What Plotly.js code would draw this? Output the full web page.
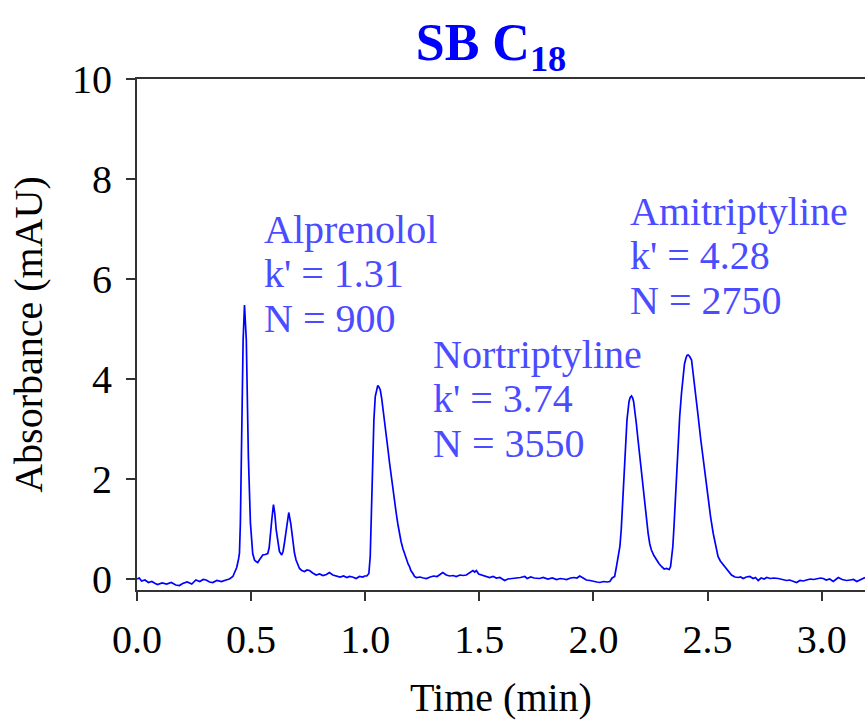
<!DOCTYPE html>
<html>
<head>
<meta charset="utf-8">
<script src="https://cdn.plot.ly/plotly-3.0.1.min.js"></script>
<style>html,body{margin:0;padding:0;background:#fff;}#chart{width:865px;height:721px;}</style>
</head>
<body>
<div id="chart"></div>
<script>
// Retention time (min)
const time = [
0, 0.01, 0.02, 0.035, 0.05, 0.065, 0.08, 0.09, 0.11, 0.13, 0.15, 0.17, 0.186, 0.2, 0.22, 0.24, 0.258, 0.275, 0.29, 0.303, 0.318, 0.332, 0.35, 0.37, 0.39, 0.405, 0.42,
0.427, 0.437, 0.445, 0.449, 0.453, 0.459, 0.465, 0.471, 0.479, 0.488, 0.497, 0.507, 0.515, 0.522, 0.529, 0.536, 0.545, 0.551, 0.562, 0.573, 0.579, 0.585, 0.591, 0.598, 0.604, 0.610, 0.617, 0.624, 0.634, 0.640, 0.646, 0.655, 0.665, 0.674, 0.683, 0.690, 0.697, 0.704, 0.712, 0.722, 0.734, 0.745, 0.756, 0.77, 0.785, 0.80, 0.815, 0.83, 0.843, 0.858, 0.873, 0.89, 0.905, 0.92, 0.931, 0.945, 0.96, 0.975, 0.99, 0.997, 1.007,
1.016, 1.022, 1.028, 1.033, 1.038, 1.044, 1.050, 1.055, 1.060, 1.066, 1.072, 1.077, 1.085, 1.092, 1.100, 1.107, 1.114, 1.121, 1.128, 1.136, 1.143, 1.150, 1.157, 1.165, 1.172, 1.182, 1.188, 1.194, 1.2, 1.209, 1.216, 1.224,
1.24, 1.255, 1.268, 1.285, 1.3, 1.315, 1.328, 1.34, 1.355, 1.37, 1.385, 1.399, 1.415, 1.43, 1.443, 1.458, 1.472, 1.48, 1.487, 1.497, 1.509, 1.52, 1.535, 1.545, 1.56, 1.575, 1.59, 1.611, 1.625, 1.64, 1.662, 1.68, 1.699, 1.71, 1.725, 1.74, 1.764, 1.78, 1.8, 1.82, 1.838, 1.855, 1.87, 1.882, 1.9, 1.915, 1.928, 1.940, 1.955, 1.969, 1.985, 2.0, 2.015, 2.028, 2.045, 2.06, 2.072, 2.082, 2.093,
2.101, 2.108, 2.116, 2.122, 2.127, 2.133, 2.137, 2.142, 2.147, 2.156, 2.161, 2.167, 2.172, 2.176, 2.182, 2.188, 2.195, 2.202, 2.21, 2.217, 2.225, 2.232, 2.24, 2.247, 2.254, 2.265, 2.276, 2.287, 2.298, 2.31, 2.32, 2.332,
2.338, 2.342, 2.348, 2.353, 2.358, 2.364, 2.371, 2.378, 2.386, 2.393, 2.399, 2.405, 2.41, 2.415, 2.422, 2.43, 2.435, 2.44, 2.45, 2.459, 2.47, 2.481, 2.492, 2.503, 2.514, 2.525, 2.535, 2.546, 2.556, 2.566, 2.576, 2.59, 2.605, 2.62, 2.634,
2.645, 2.656, 2.67, 2.685, 2.7, 2.71, 2.722, 2.735, 2.748, 2.759, 2.775, 2.79, 2.81, 2.825, 2.846, 2.86, 2.875, 2.89, 2.905, 2.92, 2.934, 2.95, 2.965, 2.98, 2.995, 3.007, 3.02, 3.035, 3.051, 3.062, 3.073, 3.09, 3.109, 3.125, 3.14, 3.154, 3.168, 3.183, 3.19
];
// Absorbance (mAU)
const absorbance = [
0.0, 0.02, -0.04, -0.02, -0.07, -0.05, -0.09, -0.11, -0.08, -0.1, -0.07, -0.12, -0.13, -0.09, -0.06, -0.1, -0.02, -0.05, -0.01, -0.02, -0.06, -0.07, -0.03, -0.05, -0.02, 0.0, 0.05,
0.12, 0.23, 0.4, 0.52, 1.12, 3.1, 4.78, 5.48, 4.78, 2.45, 1.12, 0.51, 0.38, 0.35, 0.33, 0.38, 0.45, 0.48, 0.49, 0.51, 0.62, 0.85, 1.2, 1.49, 1.3, 0.98, 0.72, 0.55, 0.48, 0.55, 0.72, 1.05, 1.33, 1.1, 0.71, 0.52, 0.38, 0.3, 0.21, 0.17, 0.15, 0.18, 0.17, 0.12, 0.08, 0.1, 0.07, 0.09, 0.13, 0.08, 0.06, 0.04, 0.06, 0.03, 0.05, 0.04, 0.01, 0.05, 0.04, 0.06, 0.06,
0.11, 0.45, 1.51, 2.51, 3.18, 3.65, 3.82, 3.87, 3.84, 3.78, 3.62, 3.45, 3.15, 2.85, 2.58, 2.31, 2.04, 1.78, 1.53, 1.31, 1.1, 0.91, 0.75, 0.61, 0.5, 0.35, 0.3, 0.25, 0.17, 0.11, 0.05, 0.03,
0.04, 0.02, 0.01, 0.04, 0.06, 0.05, 0.1, 0.13, 0.08, 0.06, 0.07, 0.05, 0.08, 0.07, 0.08, 0.12, 0.17, 0.14, 0.17, 0.1, 0.08, 0.07, 0.04, 0.03, 0.05, 0.02, 0.03, -0.03, 0.0, 0.01, 0.01, 0.03, 0.05, 0.01, 0.04, 0.02, 0.01, 0.03, 0.0, 0.02, -0.01, 0.01, 0.0, -0.01, 0.02, 0.03, 0.02, 0.06, 0.02, -0.02, -0.03, -0.05, -0.06, -0.07, -0.05, -0.06, -0.05, 0.02, 0.05,
0.25, 0.42, 0.65, 1.0, 1.45, 2.0, 2.45, 2.85, 3.18, 3.55, 3.63, 3.66, 3.62, 3.55, 3.35, 3.11, 2.8, 2.51, 2.18, 1.85, 1.5, 1.18, 0.9, 0.7, 0.58, 0.47, 0.38, 0.31, 0.25, 0.2, 0.21, 0.19,
0.25, 0.38, 0.65, 1.05, 1.55, 2.11, 2.7, 3.25, 3.72, 4.11, 4.3, 4.41, 4.47, 4.48, 4.45, 4.38, 4.2, 3.98, 3.62, 3.25, 2.8, 2.38, 1.96, 1.58, 1.22, 0.91, 0.66, 0.45, 0.36, 0.3, 0.25, 0.15, 0.08, 0.04, 0.03,
0.04, 0.01, 0.04, 0.05, 0.01, 0.03, -0.03, 0.02, 0.0, 0.03, 0.01, 0.02, 0.01, -0.01, -0.03, -0.02, -0.05, -0.07, -0.03, -0.04, -0.02, 0.0, -0.01, 0.01, 0.02, 0.01, -0.02, 0.0, -0.05, -0.01, 0.03, -0.01, -0.03, -0.02, -0.01, -0.05, -0.02, 0.01, 0.03
];

// Peak labels (one entry per text line)
const labelLines = [
  "Alprenolol", "k' = 1.31", "N = 900",
  "Nortriptyline", "k' = 3.74", "N = 3550",
  "Amitriptyline", "k' = 4.28", "N = 2750"
];
const titleText = "SB C<sub>18</sub>";
const xTitle = "Time (min)";
const yTitle = "Absorbance (mAU)";

// Label layout (paper-pixel placement)
const W = 865, H = 721, ML = 137, MR = 0, MT = 79, MB = 131;
const PW = W - ML - MR, PH = H - MT - MB;
const groupLeft = [264, 433, 630];
const groupTop = [229, 354, 211];
const lineGap = 44.5;
const serif = "Liberation Serif, Times New Roman, serif";

const annotations = labelLines.map((t, i) => {
  const g = Math.floor(i / 3), k = i % 3;
  const px = groupLeft[g] - 2, py = groupTop[g] + k * lineGap;
  return {
    text: t, showarrow: false, xref: "paper", yref: "paper",
    x: (px - ML) / PW, y: 1 - (py - MT) / PH,
    xanchor: "left", yanchor: "middle",
    font: {family: serif, size: 40, color: "#4b4bff"}
  };
});

const trace = {
  x: time, y: absorbance, type: "scatter", mode: "lines",
  line: {color: "#0000ff", width: 1.7}, hoverinfo: "skip"
};

const layout = {
  width: W, height: H,
  margin: {l: ML, r: MR, t: MT, b: MB, pad: 0},
  paper_bgcolor: "#ffffff", plot_bgcolor: "#ffffff",
  showlegend: false,
  title: {
    text: titleText, x: 491 / W, xanchor: "center", xref: "container",
    y: 1 - 42 / H, yanchor: "middle", yref: "container",
    font: {family: serif, size: 52, color: "#0000ff", weight: "bold"}
  },
  xaxis: {
    range: [0, 3.19], dtick: 0.5, tick0: 0, tickformat: ".1f",
    ticks: "outside", ticklen: 9, tickwidth: 2, tickcolor: "#333",
    showline: true, linecolor: "#333", linewidth: 2, mirror: true,
    showgrid: false, zeroline: false,
    tickfont: {family: serif, size: 40, color: "#000"},
    ticklabelstandoff: 4,
    title: {text: xTitle, font: {family: serif, size: 40, color: "#000"}, standoff: 22},
    automargin: false
  },
  yaxis: {
    range: [-0.22, 10], dtick: 2, tick0: 0,
    ticks: "outside", ticklen: 9, tickwidth: 2, tickcolor: "#333",
    showline: true, linecolor: "#333", linewidth: 2, mirror: false,
    showgrid: false, zeroline: false,
    tickfont: {family: serif, size: 40, color: "#000"},
    ticklabelstandoff: 6,
    title: {text: yTitle, font: {family: serif, size: 40, color: "#000"}, standoff: 17},
    automargin: false
  },
  annotations: annotations
};

Plotly.newPlot("chart", [trace], layout, {staticPlot: true, displayModeBar: false});
</script>
</body>
</html>
